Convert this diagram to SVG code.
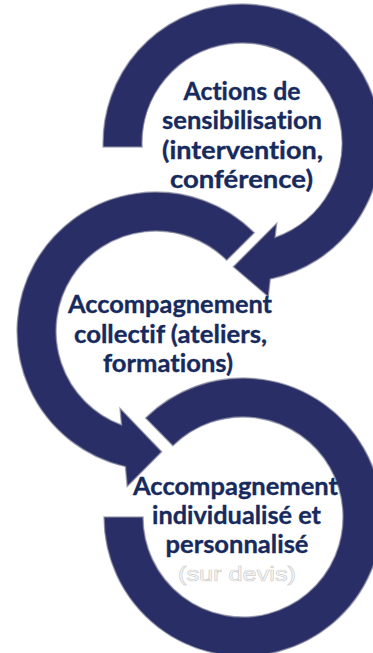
<svg xmlns="http://www.w3.org/2000/svg" width="373" height="653" viewBox="0 0 373 653">
<style>
.ring{fill:#292E66;stroke:#8f90a6;stroke-width:1.4;stroke-opacity:0.75;stroke-linejoin:miter}
.lbl{font-family:Lato,"Open Sans","Liberation Sans",sans-serif;font-weight:700;font-size:25px;fill:#172A5E;stroke:#172A5E;stroke-width:0.35;text-anchor:middle;font-variant-ligatures:none;font-feature-settings:"liga" 0,"clig" 0}
.note{font-family:"Liberation Sans",Arial,sans-serif;font-weight:400;font-size:20px;fill:#ffffff;stroke:#cfcfcf;stroke-width:0.7;text-anchor:middle}
</style>
<rect width="373" height="653" fill="#ffffff"/>
<g id="connectors">
<path id="arrow-1" class="ring" d="M 103.1,147 A 139 139 0 1 1 270.3,279.1 L 268.3,296.7 L 233.3,266.7 L 276.7,223.3 L 275.1,237.4 A 100 100 0 1 0 142.1,147 Z"/>
<path id="arrow-2" class="ring" d="M 254.3,232.7 A 139 139 0 1 0 125.4,466.6 L 127.2,486.4 L 161.7,451.7 L 120,408.3 L 121.5,424.9 A 100 100 0 1 1 226.7,260.3 Z"/>
<path id="arrow-3" class="ring" d="M 145.6,417.9 A 139 139 0 1 1 104,517 L 143,517 A 100 100 0 1 0 172.9,445.7 Z"/>
</g>
<g id="node-1">
<text class="lbl" x="242" y="99.5" textLength="117" lengthAdjust="spacingAndGlyphs">Actions de</text>
<text class="lbl" x="242" y="129" textLength="160" lengthAdjust="spacingAndGlyphs">sensibilisation</text>
<text class="lbl" x="242.5" y="158.5" textLength="161" lengthAdjust="spacingAndGlyphs">(intervention,</text>
<text class="lbl" x="241.5" y="188" textLength="143" lengthAdjust="spacingAndGlyphs">conférence)</text>
</g>
<g id="node-2">
<text class="lbl" x="170" y="313" textLength="204" lengthAdjust="spacingAndGlyphs">Accompagnement</text>
<text class="lbl" x="170.5" y="342.5" textLength="193" lengthAdjust="spacingAndGlyphs">collectif (ateliers,</text>
<text class="lbl" x="168" y="372" textLength="130" lengthAdjust="spacingAndGlyphs">formations)</text>
</g>
<g id="node-3">
<text class="lbl" x="235.5" y="495" textLength="205" lengthAdjust="spacingAndGlyphs">Accompagnement</text>
<text class="lbl" x="236.5" y="524" textLength="169" lengthAdjust="spacingAndGlyphs">individualisé et</text>
<text class="lbl" x="237" y="553" textLength="143" lengthAdjust="spacingAndGlyphs">personnalisé</text>
<text class="note" x="237" y="581" textLength="118" lengthAdjust="spacingAndGlyphs">(sur devis)</text>
</g>
</svg>
